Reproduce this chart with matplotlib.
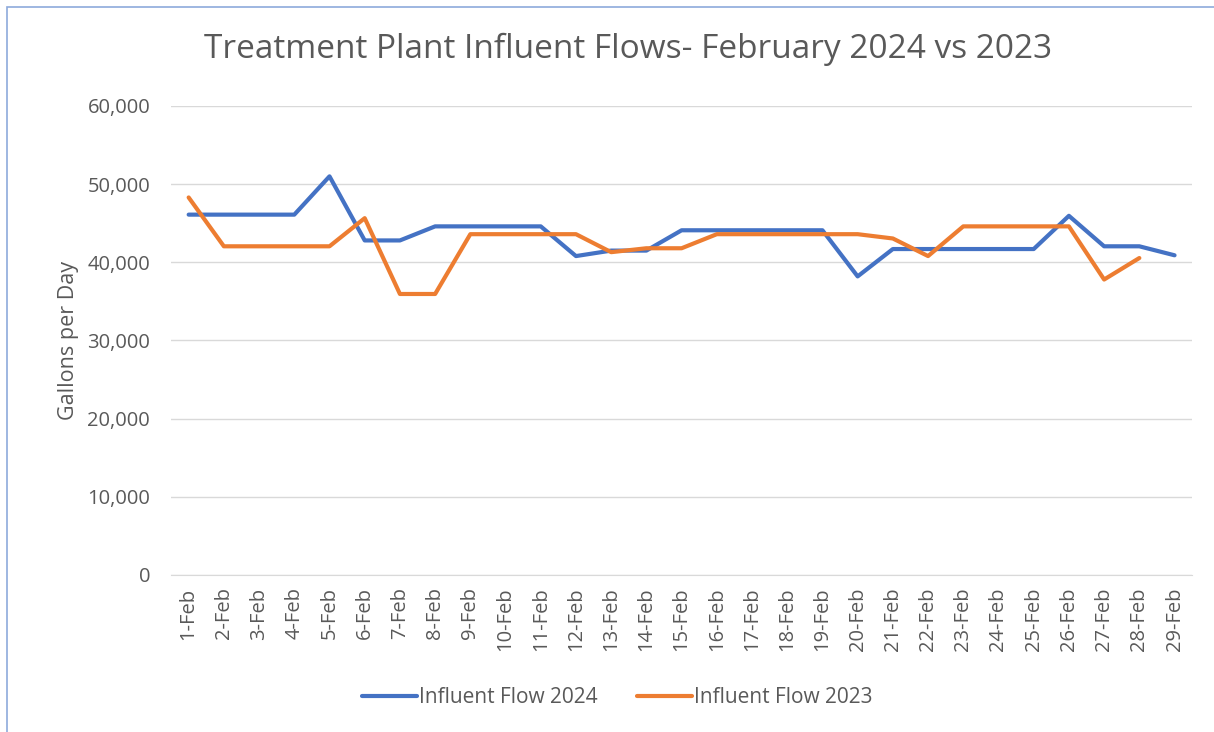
import matplotlib.pyplot as plt
import matplotlib.patches as patches
from matplotlib.ticker import FuncFormatter

days = [f"{d}-Feb" for d in range(1, 30)]

flow_2024 = [46100, 46100, 46100, 46100, 51000, 42800, 42800, 44600, 44600, 44600,
             44600, 40800, 41500, 41500, 44100, 44100, 44100, 44100, 44100, 38200,
             41700, 41700, 41700, 41700, 41700, 45950, 42050, 42050, 40900]

flow_2023 = [48300, 42050, 42050, 42050, 42050, 45650, 35950, 35950, 43600, 43600,
             43600, 43600, 41300, 41800, 41800, 43600, 43600, 43600, 43600, 43600,
             43050, 40800, 44600, 44600, 44600, 44600, 37800, 40550]

blue = "#4472C4"
orange = "#ED7D31"
text_gray = "#595959"

plt.rcParams["font.family"] = ["Open Sans", "DejaVu Sans"]

fig = plt.figure(figsize=(12.14, 7.32), dpi=100)
ax = fig.add_axes([0.1409, 0.2145, 0.8411, 0.6407])

# blue frame around the chart area
frame = patches.Rectangle((7 / 1214, -0.05), 1.2, 1 - 7 / 732 + 0.05,
                          transform=fig.transFigure, fill=False,
                          edgecolor="#8EAADB", linewidth=1.2)
fig.patches.append(frame)

x = list(range(len(days)))
ax.plot(x, flow_2024, color=blue, linewidth=3, label="Influent Flow 2024",
        solid_capstyle="round", solid_joinstyle="round")
ax.plot(x[:len(flow_2023)], flow_2023, color=orange, linewidth=3,
        label="Influent Flow 2023", solid_capstyle="round", solid_joinstyle="round")

ax.set_xlim(-0.5, len(days) - 0.5)
ax.set_ylim(0, 60000)
ax.set_yticks(range(0, 60001, 10000))
ax.yaxis.set_major_formatter(FuncFormatter(lambda v, p: f"{int(v):,}"))
ax.set_xticks(x)
ax.set_xticklabels(days, rotation=90)

ax.grid(axis="y", color="#D9D9D9", linewidth=1)
ax.set_axisbelow(True)
for s in ["top", "right", "left"]:
    ax.spines[s].set_visible(False)
ax.spines["bottom"].set_color("#D9D9D9")
ax.tick_params(axis="both", length=0, labelsize=14.5, colors=text_gray)
ax.tick_params(axis="y", pad=15)
ax.tick_params(axis="x", pad=9)

ax.set_ylabel("Gallons per Day", fontsize=15.5, color=text_gray, labelpad=6)

fig.text(0.517, 0.932, "Treatment Plant Influent Flows- February 2024 vs 2023",
         ha="center", va="center", fontsize=24, color=text_gray)

ax.legend(loc="center", bbox_to_anchor=(0.437, -0.262), ncol=2, frameon=False,
          fontsize=15, labelcolor=text_gray, handlelength=2.65, handletextpad=0.1,
          columnspacing=1.9)

fig.savefig("out.png", dpi=100, facecolor="white")
